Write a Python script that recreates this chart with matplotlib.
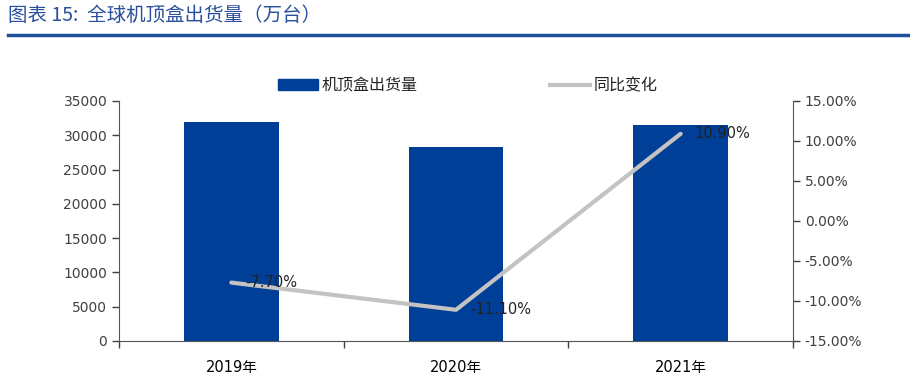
import matplotlib.pyplot as plt
from matplotlib.lines import Line2D
from matplotlib.patches import Patch

plt.rcParams['font.family'] = ['DejaVu Sans', 'Noto Sans CJK SC']

# data
years = ['2019年', '2020年', '2021年']
shipments = [31900, 28300, 31500]       # 万台
yoy = [-7.7, -11.1, 10.9]               # %
yoy_labels = ['-7.70%', '-11.10%', '10.90%']

bar_color = '#003f98'
line_color = '#c3c3c3'
text_color = '#404040'

fig = plt.figure(figsize=(9.1, 3.75), dpi=100)
ax1 = fig.add_axes([0.1308, 0.0907, 0.7406, 0.64])
ax2 = ax1.twinx()

x = list(range(len(years)))
ax1.bar(x, shipments, width=0.42, color=bar_color, zorder=2)
ax1.set_xlim(-0.5, 2.5)
ax1.set_ylim(0, 35000)
ax1.set_yticks(range(0, 35001, 5000))

ax2.plot(x, yoy, color=line_color, linewidth=3, zorder=3, solid_capstyle='round')
ax2.set_ylim(-15, 15)
ax2.set_yticks(range(-15, 16, 5))
ax2.set_yticklabels([f'{v:.2f}%' for v in range(-15, 16, 5)])

for xi, v, lab in zip(x, yoy, yoy_labels):
    ax2.annotate(lab, (xi, v), xytext=(10, 0), textcoords='offset points',
                 ha='left', va='center', fontsize=10.5, color='#222222', zorder=4)

# axis styling
for ax in (ax1, ax2):
    ax.spines['top'].set_visible(False)
    ax.tick_params(colors=text_color, labelsize=10, length=5, width=1)
    for s in ax.spines.values():
        s.set_color('#555555')
ax1.spines['right'].set_visible(False)
ax2.spines['left'].set_visible(False)
ax2.spines['bottom'].set_visible(False)

ax1.set_xticks([-0.5, 0.5, 1.5, 2.5])
ax1.set_xticklabels([])
ax1.set_xticks(x, minor=True)
ax1.set_xticklabels(years, minor=True)
ax1.tick_params(axis='x', which='minor', length=0, pad=14, labelsize=10.5)
ax1.tick_params(axis='x', which='major', length=5, direction='out')

# legend
handles = [Patch(color=bar_color, label='机顶盒出货量'),
           Line2D([0], [0], color=line_color, linewidth=3, label='同比变化')]
fig.legend(handles=handles, loc='center', bbox_to_anchor=(0.514, 0.772), ncol=2,
           frameon=False, fontsize=11.5, columnspacing=8.3, handlelength=2.5,
           handletextpad=0.2, labelcolor='#222222')

# title + rule
fig.text(0.009, 0.96, '图表 15:  全球机顶盒出货量（万台）', fontsize=14, color='#2a4f9c',
         style='italic', ha='left', va='center', family=['Noto Sans CJK SC', 'DejaVu Sans'])
fig.add_artist(Line2D([0.009, 1.0], [0.907, 0.907], color='#1f4e9b', linewidth=2.5))

fig.savefig('out.png', dpi=100)
